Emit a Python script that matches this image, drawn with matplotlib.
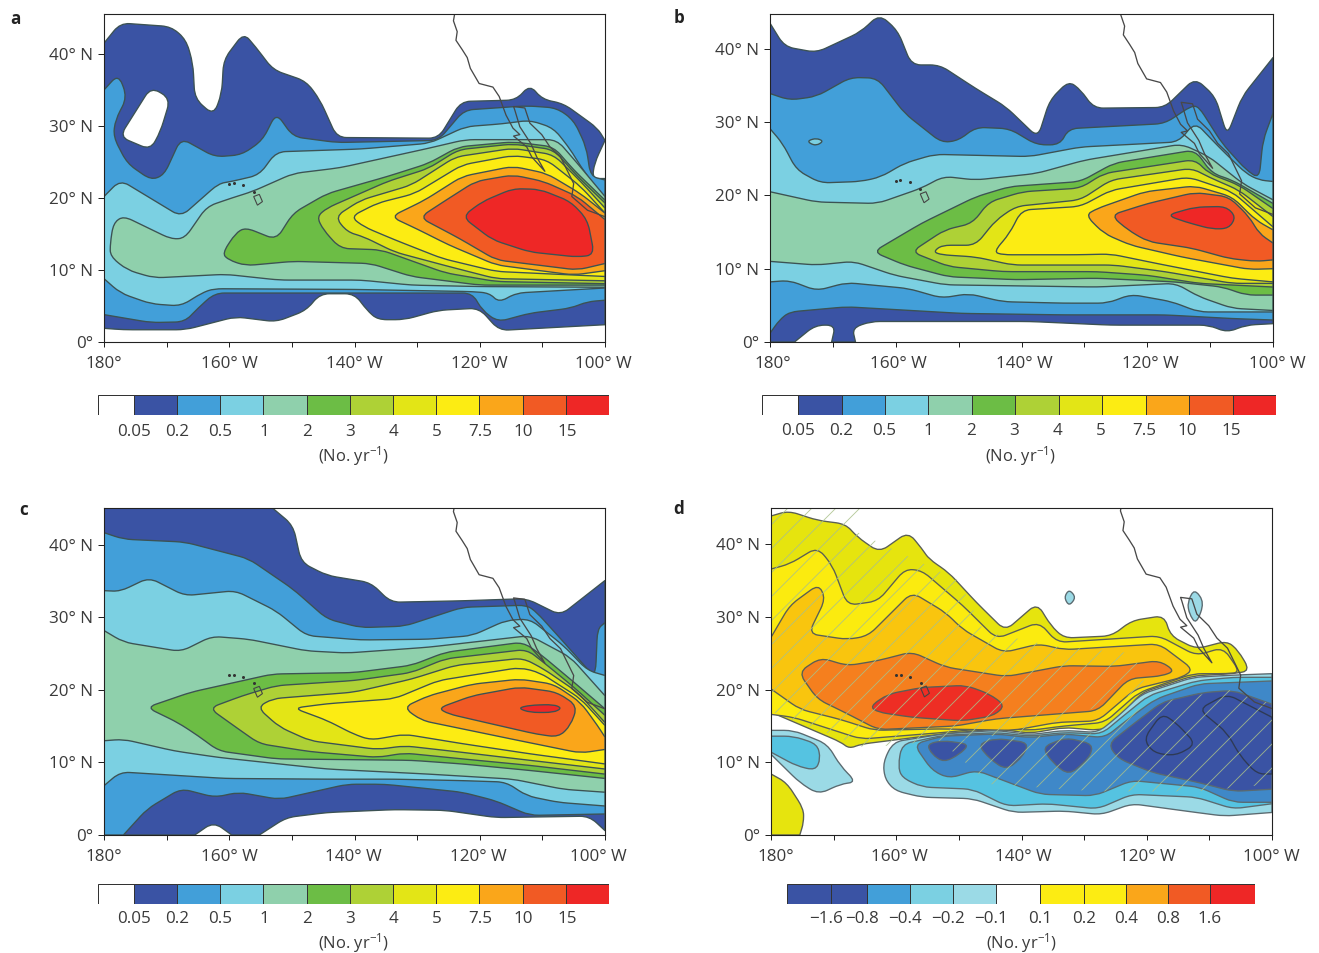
import matplotlib
matplotlib.use("Agg")
import matplotlib.pyplot as plt
from matplotlib.patches import Polygon, PathPatch
from matplotlib.path import Path
from matplotlib.transforms import ScaledTranslation
import numpy as np

plt.rcParams['font.family'] = ['Open Sans', 'DejaVu Sans']
plt.rcParams['mathtext.fontset'] = 'custom'
plt.rcParams['mathtext.rm'] = 'Open Sans'
plt.rcParams['mathtext.default'] = 'regular'
plt.rcParams['hatch.linewidth'] = 0.9

W, H = 1319, 953

# contour regions as (lon, lat), one list per level
a1 = [(-180,41.5),(-177.4,44.3),(-169.3,43.8),(-166.9,42),(-165.8,38.7),(-165.5,33.8),(-162.5,31.5),(-161.2,34.5),(-160.9,39.2),(-157.7,42.9),(-155.8,41),(-153,37.8),(-147.7,36.2),(-145.5,33.6),(-142.8,28.4),(-126.6,28.3),(-123,33.4),(-114.2,33.6),(-112,35.7),(-110,33.7),(-106.6,33.1),(-101.2,29.7),(-100,28),(-101.7,24.8),(-102,22.7),(-100,22.7),(-100,2.4),(-116.9,1.6),(-120.1,4.7),(-126.6,4.4),(-132,3.1),(-136.3,3.1),(-138,4.4),(-140,6.7),(-145.5,6.7),(-147.7,4.4),(-152.5,2.8),(-159,3.5),(-167,1.7),(-176.9,1.7),(-180,1.9)]
a_hole = [(-172.5,35.4),(-169.4,33.8),(-171,29.2),(-172.6,26.7),(-177.5,28.5)]
a2 = [(-180,35),(-177.7,37.2),(-176.3,34),(-178.2,30.8),(-178.5,28.5),(-176.3,24.8),(-172.5,22.5),(-170.4,23.2),(-167.7,28.3),(-162.3,25.7),(-158,26),(-154.7,28),(-152.5,31.8),(-149.8,28.5),(-142.8,27.7),(-126.6,28),(-122.5,32.2),(-112.5,32.8),(-107.7,32.5),(-105,30.8),(-103,27.1),(-102.3,23),(-100,22.5),(-100,5.8),(-102.8,5.6),(-105.5,4.7),(-112,4),(-117.1,2.8),(-119.6,4.4),(-121.2,6.8),(-162.3,6.8),(-165,4.7),(-167.1,2.8),(-172.5,2.7),(-180,3.8)]
a3 = [(-180,20.2),(-177.4,22.5),(-167.7,17.4),(-161.7,22),(-159.6,22.3),(-155.2,23.2),(-152.5,26.4),(-139,26.8),(-128,27.6),(-122.3,29.9),(-116.4,30.3),(-112,30.8),(-108.2,29.7),(-105.5,26.7),(-103.9,24.4),(-100,19.7),(-100,7.5),(-114.2,6.8),(-116.9,5.5),(-118.5,6.8),(-121.2,7),(-140,7.3),(-162.5,7.4),(-164.4,6.8),(-167.7,5),(-172.5,5.3),(-177.4,6.8),(-180,8.8)]
a4 = [(-179,13.7),(-178.5,16.5),(-176.9,17.5),(-169.3,14.3),(-167.1,14.4),(-163.6,18.8),(-159.6,20),(-156.3,20.9),(-149.8,23.4),(-142.3,24.2),(-128.2,26.9),(-122.3,28.1),(-107.7,28.1),(-104.4,24.8),(-100,20.2),(-100,7.6),(-120,7.7),(-130.9,7.9),(-139,8.6),(-152,8.6),(-160.6,9.4),(-172,8.9),(-176.3,10),(-179,11.9)]
a5 = [(-161.1,12.3),(-159,15.1),(-157.4,15.9),(-152.5,14.2),(-149.8,17.9),(-144.4,20.6),(-134.7,23),(-128.2,24.8),(-123.4,27.1),(-114.7,27.8),(-108.2,27.1),(-105,23.9),(-100,19.7),(-100,7.9),(-120,7.9),(-130.9,9.1),(-137.4,10.9),(-149.8,11.2),(-157.4,10.6),(-160.1,11.4)]
a6 = [(-146,17.4),(-144.4,18.6),(-134.7,22.3),(-128.2,24.1),(-123.4,26.7),(-114.7,27.5),(-108.2,26.7),(-104.4,23),(-100,19.3),(-100,8.1),(-117.4,8.4),(-125.5,9.6),(-135.8,12.8),(-142.3,13),(-145,15.6)]
a7 = [(-143.1,17.4),(-139,19.7),(-130.9,21.8),(-123.9,25.7),(-114.7,26.9),(-108.2,26),(-103.9,22.3),(-100,18.6),(-100,8.5),(-117.4,8.8),(-125,10.5),(-133.6,12.5),(-138.5,14.6),(-141.2,15.3)]
a8 = [(-140.6,17.4),(-136.3,19.3),(-130.4,20.6),(-122.8,24.6),(-114.7,25.9),(-109.3,25.3),(-103.9,21.6),(-100,17.9),(-100,9.1),(-117.4,9.8),(-126,11.6),(-133.6,14.2),(-138.5,16)]
a9 = [(-134.2,17.4),(-128.8,19.7),(-122.8,23),(-114.7,24.4),(-109.3,23.4),(-103.9,20.6),(-100,17.9),(-100,9.9),(-105,9.3),(-117.4,10.7),(-125,13.5),(-129.8,15.6)]
a10 = [(-129.6,17.3),(-126.1,19.3),(-120.7,22.3),(-114.7,23.2),(-109.8,22.3),(-104.4,20.2),(-100,17),(-100,10.9),(-104.4,10),(-117.4,11.4),(-123.3,14.4)]
a11 = [(-122.8,17.4),(-119.6,19.5),(-114.7,21.3),(-110.4,21.2),(-105.5,19.5),(-102.8,17),(-101.7,12.1),(-104.4,11.8),(-112,12.5),(-118,14.2)]

b1 = [(-180,43.5),(-177.7,40.3),(-172.6,39.5),(-165.6,42.3),(-162.6,44.7),(-159.7,42.5),(-157.5,37.8),(-153,37.8),(-147.3,34.6),(-142.5,32.1),(-137.4,27.9),(-135.5,33),(-132.5,35.6),(-130.6,34.4),(-128.5,31.9),(-117.2,32),(-112.4,36),(-109.2,33.5),(-107.3,28.2),(-104.9,33.5),(-100,38.8),(-100,2.5),(-104.3,2.3),(-107.3,1.3),(-110.2,2.3),(-125.8,2.3),(-138.7,2.8),(-164,2.8),(-166.9,1.9),(-166.4,0),(-170.2,0),(-169.6,2.3),(-172.8,2.3),(-176.1,0),(-180,0)]
b2 = [(-180,33.9),(-176.9,33),(-172.6,33.5),(-167.2,36.1),(-162.9,36),(-158.6,31.2),(-152.7,27.2),(-150,27.5),(-147.3,29.3),(-141.9,29.1),(-137.6,26.9),(-133.9,26.9),(-132.5,29.1),(-117.2,29.8),(-113,32.2),(-111.8,32.1),(-108.1,27.1),(-104.3,23.5),(-102.2,22.3),(-101.6,27.5),(-100,31.2),(-100,3),(-106.5,3.2),(-117.2,3.7),(-133.3,3.7),(-149.5,3.9),(-167.8,4.8),(-176.9,4.1),(-178.5,3),(-180,1.2)]
b_isle = [(-173.9,27.5),(-172.6,27.8),(-171.5,27.4),(-172.6,26.8),(-173.7,27.1)]
b3 = [(-180,29.1),(-178,27.1),(-175.8,23.5),(-172,21.7),(-165.6,21.9),(-162.4,22.5),(-158.6,24.4),(-153.8,25.6),(-138.7,25.3),(-130.6,26.6),(-115,27.3),(-112.4,30),(-108.6,26.6),(-104.3,23),(-102.2,22.1),(-100,21.9),(-100,4.1),(-111.8,4.1),(-116.1,5.5),(-122.6,6.5),(-126.3,5.3),(-133.3,5.3),(-143,5.5),(-148.4,6.6),(-152.7,6),(-158,7.3),(-167.8,8.1),(-172.6,7),(-176.9,8.4),(-180,8.2)]
b4 = [(-180,20.5),(-172.6,19.1),(-162.9,18.9),(-155.9,21),(-152.4,22.6),(-147.3,22.1),(-137.6,23),(-130,24.8),(-114.5,27),(-110.2,25.3),(-104.8,21.6),(-100,19.4),(-100,4.3),(-106.5,4.6),(-111.8,6.2),(-115.5,8),(-128,7.5),(-152.1,7.8),(-160.2,9.1),(-166.7,11),(-172.6,10.5),(-180,11)]
b5 = [(-163.6,12.3),(-155.9,16.2),(-147.3,19.8),(-141.9,21.2),(-130.6,21.9),(-125.3,24.4),(-112.4,26.2),(-109.7,23),(-106.5,22.1),(-100,18.9),(-100,6.4),(-104.3,6.4),(-108,7.5),(-115.6,8.2),(-128,8.7),(-140.9,8.5),(-151.6,8.9),(-158.6,10.5)]
b6 = [(-157.5,12.3),(-152.2,15.3),(-147.8,16.2),(-145.2,19.1),(-139.8,20.5),(-130.6,21),(-126.9,23),(-112.4,24.9),(-110.2,23),(-105.4,21.4),(-100,18.2),(-100,7.5),(-111.8,8),(-119.9,9.1),(-128,9.6),(-143,9.6),(-151.6,10.3)]
b7 = [(-154,12.3),(-152.7,13.2),(-147.3,13.2),(-144.1,16.6),(-140.9,18.5),(-130.6,19.4),(-125.8,22.1),(-112.9,23.7),(-110.2,22.5),(-105.4,20.7),(-100,17.1),(-100,8),(-106.5,8),(-117.2,9.6),(-125.3,10.5),(-141.4,10.5),(-147.3,11.6),(-152.7,11.9)]
b8 = [(-144.4,12.3),(-141.9,14.8),(-140,18),(-130.6,18.5),(-125.8,20.7),(-113.4,22.5),(-106.5,20.5),(-100,15.7),(-100,8.2),(-106.5,8.7),(-118.4,10.7),(-125.8,12),(-131.2,11.9),(-143,11.9)]
b9 = [(-129.8,17.3),(-128,18.2),(-120.4,20.5),(-112.4,21.3),(-106.5,19.8),(-102.7,16.6),(-100,15.3),(-100,10),(-103.8,9.9),(-114.5,11.6),(-122.6,13.2),(-126.9,14.8)]
b10 = [(-125.8,17.3),(-119.9,18.9),(-112.4,20.4),(-107,19.8),(-103.8,17.1),(-102.2,14.8),(-100,13.5),(-100,11.2),(-102.7,11),(-107,11.4),(-112.9,12.8),(-119.9,13.7),(-123.1,15.3)]
b11 = [(-116.9,17.3),(-112.4,18.4),(-107.5,18.5),(-105.9,17.1),(-107,15.5),(-109.7,15.4),(-114,16.4)]

c1 = [(-180,45.1),(-153.1,45.1),(-149.8,42.7),(-148.5,37.6),(-144.4,35.8),(-137.4,34.8),(-134.2,32.1),(-122.8,32.3),(-112.5,32.6),(-107.1,30.3),(-100,35.1),(-100,0.6),(-102.5,2.6),(-117.4,2.4),(-125.5,3.4),(-133.6,3.5),(-144.4,3.1),(-150.9,2.4),(-155.2,0),(-159.6,0),(-162.5,1.8),(-165.5,0),(-180,0)]
c2 = [(-180,41.7),(-176.9,40.8),(-167.1,40.4),(-156.9,38.1),(-149.8,33.9),(-144.4,29.8),(-139,28.6),(-132,28.8),(-122.8,31.4),(-112.5,31.7),(-110.9,30.7),(-106.6,26.6),(-102.3,22.4),(-101.5,22.4),(-101.2,28.4),(-100,29.3),(-100,2.9),(-112,2.7),(-117.4,4.7),(-122.8,5.9),(-135.2,7),(-141.2,7),(-152,4.9),(-158.5,5.9),(-162.3,5.2),(-167.7,6.4),(-173.1,3.6),(-176.9,0),(-180,0)]
c3 = [(-180,33.7),(-177.4,33.6),(-172.8,35.5),(-167.1,33),(-159,33.7),(-152.5,30.9),(-147.7,27.5),(-139,26.9),(-128.2,27),(-121.2,27.5),(-115.8,29.6),(-112,29.8),(-106.6,26.1),(-102.8,22.7),(-100,22),(-100,4),(-107.4,4.5),(-112.5,5.4),(-115.8,7.3),(-122.8,7.5),(-133.6,7.7),(-144.4,7.7),(-160.6,7.8),(-177.4,8.7),(-180,6.8)]
c4 = [(-180,28.2),(-176.9,26.6),(-167.7,25.3),(-162.8,27.4),(-156.9,27),(-147.7,25.4),(-141.2,25.1),(-128.2,25.9),(-112,27.5),(-105.5,24.5),(-100,19.2),(-100,5.9),(-106.6,6.3),(-114.7,7.7),(-128.2,8.4),(-144.4,9.1),(-161.7,10.7),(-168.8,11.6),(-176.9,13.2),(-180,13)]
c5 = [(-173.2,17.6),(-166.1,19.7),(-153.1,22.2),(-140.1,22.4),(-130.9,23.4),(-125.5,25.2),(-113.1,26.6),(-110.4,25),(-105,21.1),(-100,17.4),(-100,7.8),(-112,8.9),(-122.8,9.8),(-130.9,10.3),(-152.5,10.5),(-161.7,11.6),(-165,13.7),(-168.2,15.5)]
c6 = [(-163.2,17.5),(-157.9,19.2),(-152.5,20.6),(-140.1,21.3),(-130.9,22.4),(-125.5,24.3),(-112.5,25.6),(-109.8,23.8),(-105,20.4),(-100,16.5),(-100,8.4),(-112,9.6),(-122.8,10.5),(-132,11.3),(-136.3,10.7),(-147.1,11.5),(-155.2,12.6),(-158.5,14.6)]
c7 = [(-155.5,17.6),(-153.1,18.8),(-140.1,19.7),(-130.9,21.5),(-123.9,23.4),(-113.1,24.4),(-109.8,22.9),(-104.4,19.7),(-100,15.5),(-100,9.1),(-112,10.3),(-122.8,11.4),(-132,12.3),(-136.3,11.8),(-147.1,13),(-152,14.9)]
c8 = [(-149.7,17.5),(-144.4,18.1),(-133.6,18.8),(-126.6,21.3),(-113.6,23.1),(-110.4,22.4),(-103.9,18.8),(-100,15.1),(-100,9.8),(-112,11.2),(-122.8,12.6),(-132,13.9),(-137.4,13.1),(-140.1,13.9),(-144.4,15.8)]
c9 = [(-132.2,17.6),(-128.2,19.2),(-121.2,20.8),(-113.6,21.5),(-108.2,20.8),(-103.9,18.3),(-101.2,15.1),(-100,13.5),(-100,11.8),(-103.9,11.3),(-113.6,13),(-129.3,15.8)]
c10 = [(-126.6,17.5),(-121.2,19.2),(-113.6,20.4),(-107.7,19.7),(-104.4,17.8),(-105.5,15.1),(-107.4,13.5),(-110.9,13.9),(-119,15.5),(-125,16.7)]
c11 = [(-113.9,17.5),(-112,17.9),(-108.2,18),(-106.9,17.5),(-108.2,16.9),(-112,16.9)]

d_p1 = [(-180,43.9),(-177.2,44.6),(-172.6,43.3),(-168.1,42.8),(-166.2,41),(-162.7,38.9),(-158.1,41.7),(-155.9,39.4),(-154.8,38),(-151.6,36.1),(-147.2,32),(-142.6,28.1),(-137.5,31.9),(-135.3,28.8),(-133.2,27.1),(-125.6,27.4),(-122.4,29.5),(-117.2,30.2),(-116.2,27.4),(-112.1,25.6),(-107.2,26.7),(-105.4,25.4),(-103.5,22.6),(-106.2,22.2),(-112.6,21.9),(-120.8,19.6),(-125.6,15),(-127.8,14.4),(-133.2,14.8),(-138.6,14),(-144,14.6),(-152.6,13.9),(-165.6,12.5),(-167.5,11.9),(-168.9,12.8),(-180,16.9)]
d_p1b = [(-180,8.4),(-177.5,7.2),(-174.8,3.6),(-174.8,1.7),(-175.4,0),(-180,0)]
d_p2 = [(-180,36.6),(-177,37.3),(-172.6,39.6),(-170.2,37.1),(-167.8,31.6),(-162.9,32.2),(-158.6,36.6),(-155.9,36.4),(-149.4,31.6),(-144,27),(-137.2,29.3),(-134.3,26.5),(-118,27.4),(-112.1,24.7),(-107.8,25.8),(-105.1,22.4),(-107.2,22.2),(-112.6,22.2),(-121.3,19.6),(-126.7,15.5),(-133.2,15),(-138.6,14.4),(-144,14.8),(-152.6,14.1),(-165.6,13.2),(-176.4,16.2),(-180,16.6)]
d_p3 = [(-180,27.2),(-177,31.6),(-172.4,34.5),(-171.3,32.5),(-174,27.7),(-167.8,26.9),(-164.5,27.4),(-157.5,33.4),(-152.1,30.6),(-149.4,28.3),(-142.9,25.1),(-137.2,26.3),(-133.2,25.5),(-118,26.3),(-112.6,22.8),(-114.3,21.7),(-121.8,20.1),(-127.8,15.7),(-134.3,15.5),(-141.3,14.4),(-153.2,14.6),(-163.5,14.4),(-168.9,15.9),(-175.4,17.3),(-180,20.1)]
d_p4 = [(-175.6,22.4),(-172.1,24.4),(-167.8,23.3),(-162.9,24),(-157.5,25.2),(-152.1,23.1),(-142.4,21.8),(-133.2,23.3),(-125.1,23.2),(-118,24),(-115.5,22.6),(-117.5,21.9),(-122.9,21.5),(-127.8,17.1),(-144,16),(-150.5,15),(-162.9,14.5),(-168.3,16.9),(-172.6,18.7)]
d_p5 = [(-164.2,17.7),(-161.3,19.4),(-155.9,20.3),(-148.9,20.6),(-145.1,19.4),(-142.6,17.8),(-144.5,16.4),(-149.4,15.7),(-157.5,16.2),(-162.9,16.9)]
d_n1 = [(-162.1,10),(-160.5,12.8),(-152.6,13.9),(-144,14.4),(-138.6,13.8),(-133.2,14.4),(-127.8,14.1),(-124.5,16.4),(-120.8,19.4),(-112.6,21.7),(-106.2,22),(-100,22.2),(-100,3.1),(-107.6,2.6),(-112.1,3.1),(-122.4,4.3),(-127.2,2.8),(-133.2,3.3),(-141.3,3.1),(-147.8,5),(-155.9,5.2),(-160.2,6.1),(-161.8,7.7)]
d_n1b = [(-180,14.4),(-176.4,14.4),(-171,12.5),(-168.9,9.5),(-166.4,7.3),(-168.9,7),(-172.4,5.6),(-175.4,7.2),(-180,11.1)]
d_n1c = [(-133.2,32.7),(-132.4,33.8),(-131.3,32.7),(-132.4,31.5)]
d_n1d = [(-113.5,32),(-112.4,33.9),(-110.8,32),(-112.1,29),(-113.2,30.4)]
d_n2 = [(-159.7,9.5),(-159.1,12.5),(-152.6,13.7),(-144,14.1),(-138.6,13.6),(-133.2,14.1),(-127.2,13.9),(-124,16.2),(-119.7,19.2),(-112.1,21.2),(-106.2,21.7),(-100,21.7),(-100,4.3),(-106.2,3.6),(-112.1,5.2),(-122.4,5.6),(-127.8,3.6),(-135.9,4.3),(-142.4,4),(-147.8,6.3),(-155.9,6.6),(-159.1,7.9)]
d_n2b = [(-180,13.6),(-176.4,13.6),(-172.6,12.5),(-172.1,10.5),(-172.9,8.9),(-175.9,9.5),(-180,11.4)]
d_n3 = [(-157.2,12.5),(-152.6,13.6),(-144,13.9),(-138.6,13.4),(-133.2,13.9),(-126.7,13.4),(-122.9,16),(-118.6,18.7),(-111.6,20.8),(-100,21.2),(-100,4.5),(-106.2,4.5),(-111.6,6.6),(-122.4,7.5),(-128.3,5.4),(-137,5.6),(-147.2,8.9),(-151.6,7.8),(-154.3,8.9)]
d_n4a = [(-155.1,12.5),(-152.6,13),(-148.3,12.5),(-149.9,11.1),(-152.4,10),(-154.3,11.1)]
d_n4b = [(-147,12.5),(-144,13.3),(-138.9,12.7),(-139.7,10.9),(-142.4,8.9),(-145.1,10.5)]
d_n4c = [(-136.7,12.1),(-132.9,13.4),(-128.6,12.5),(-129.1,10.7),(-132.4,8.2),(-135.1,10)]
d_n4d = [(-126.2,12.5),(-121.8,15.5),(-117.5,18.3),(-111,19.6),(-106.2,19.9),(-100,18),(-100,6.3),(-106.2,6),(-111.6,7.2),(-119.1,8.6),(-124.5,10.5)]
d_n5a = [(-120.5,13.2),(-117.6,16.7),(-115.4,15.5),(-112.1,12.5),(-115.4,10.9),(-118.9,11.3)]
d_n5b = [(-111.7,17.3),(-107.2,19.4),(-100,16.2),(-100,8.4),(-102.4,8.4),(-105.1,10.9),(-107.2,14.1)]
d_sig1 = [(-180,45),(-164.5,45),(-167,42),(-150,35),(-146,28),(-135,26),(-122,25),(-120,20),(-140,14),(-165,12),(-180,17)]
d_sig2 = [(-153,13),(-128,14),(-120,18),(-107,20),(-100,18),(-100,7),(-112,6),(-128,6),(-145,7)]

coast = [(-124,45.6),(-124.2,44.6),(-123.6,43.1),(-123.8,41.9),(-122.8,40.6),(-122,39.5),(-121.5,38),(-120.1,35.9),(-117.9,35.4),(-116.9,34.1),(-115.8,31.5),(-114.7,29.7),(-113.6,28.8),(-114.6,28.6),(-112.5,27.1),(-111.7,25.7),(-109.6,23.7),(-110.9,25.7),(-111.8,27.5),(-113.6,29.9),(-114.4,32.2),(-114.6,32.7),(-112.8,32.5),(-112,30.4),(-110.1,28.8),(-108.8,27.1),(-107.1,25.7),(-105,22),(-105.3,20.2),(-102.8,18.3),(-100,17.4)]
big_island = [(-156.1,20.2),(-155.2,20.5),(-154.7,19.5),(-155.5,19)]
isle_lon = [-160,-159.3,-157.8,-156.1]
isle_lat = [22,22.05,21.8,20.9]

lon_ticks = [-180,-170,-160,-150,-140,-130,-120,-110,-100]
lon_labels = ['180°','','160° W','','140° W','','120° W','','100° W']
lat_ticks = [0,10,20,30,40]
lat_labels = ['0°','10° N','20° N','30° N','40° N']

cb_labels = ['0.05','0.2','0.5','1','2','3','4','5','7.5','10','15']
cb_labels_d = ['\u22121.6','\u22120.8','\u22120.4','\u22120.2','\u22120.1','0.1','0.2','0.4','0.8','1.6']

white = '#ffffff'
cols = ['#3a53a4','#429fd9','#7bd0e2','#8fd0ac','#6cbd45','#aed136','#e3e516','#fcec13','#faa61a','#f15a24','#ee2726']
cols_d = ['#3a53a4','#3a53a4','#429fd9','#7bd0e2','#9bdae6',white,'#fcec13','#fcec13','#faa61a','#f15a24','#ee2726']
line_col = '#3c5253'
txt_col = '#3a3a3a'


def px_axes(x0, y0, x1, y1):
    return fig.add_axes([x0/W, 1-y1/H, (x1-x0)/W, (y1-y0)/H])


def round_path(poly, r=1.5):
    # round the corners of a region, but keep the ones sitting on the map frame sharp
    pts = np.array(poly, dtype=float)
    verts, codes = [], []
    for i, p in enumerate(pts):
        on_frame = p[0] in (-180, -100) or p[1] == 0 or p[1] > 45
        prev, nxt = pts[i-1], pts[(i+1) % len(pts)]
        d1, d2 = prev-p, nxt-p
        n1, n2 = np.hypot(*d1), np.hypot(*d2)
        if on_frame:
            verts.append(p)
            codes.append(Path.MOVETO if i == 0 else Path.LINETO)
        else:
            verts += [p+d1/n1*min(r, .45*n1), p, p+d2/n2*min(r, .45*n2)]
            codes += [Path.MOVETO if i == 0 else Path.LINETO, Path.CURVE3, Path.CURVE3]
    verts.append(verts[0])
    codes.append(Path.CLOSEPOLY)
    return Path(verts, codes)


def fill(ax, poly, col, lw=1.35, ec=line_col):
    ax.add_patch(PathPatch(round_path(poly), fc=col, ec=ec, lw=lw, joinstyle='round'))


def map_axes(box, top, shifts):
    ax = px_axes(*box)
    ax.set_xlim(-180, -100)
    ax.set_ylim(0, top)
    ax.set_xticks(lon_ticks, lon_labels)
    ax.set_yticks(lat_ticks, lat_labels)
    ax.tick_params(axis='x', length=5, width=1, color='#222222', labelsize=17, labelcolor=txt_col, pad=9)
    ax.tick_params(axis='y', length=6, width=1, color='#222222', labelsize=17, labelcolor=txt_col, pad=5)
    for lab, dx in zip(ax.get_xticklabels(), shifts):
        lab.set_transform(lab.get_transform() + ScaledTranslation(dx/72, 0, fig.dpi_scale_trans))
    for s in ax.spines.values():
        s.set_linewidth(1.1)
        s.set_color('#222222')
        s.set_zorder(20)
    return ax


def land(ax):
    ax.plot(*zip(*coast), color='#484848', lw=1.3, zorder=10)
    ax.add_patch(Polygon(big_island, closed=True, fc='none', ec='#444444', lw=1.1, zorder=10))
    ax.plot(isle_lon, isle_lat, '.', color='#333333', ms=4, zorder=10)


def colorbar(box, widths, colors, labels, unit_x, lab_y, unit_y):
    ax = px_axes(*box)
    left = 0
    edges = []
    for w, c in zip(widths, colors):
        ax.bar(left, 1, width=w, align='edge', color=c, edgecolor='#333333', linewidth=1)
        left += w
        edges.append(left)
    ax.set_xlim(0, left)
    ax.set_ylim(0, 1)
    ax.axis('off')
    for e, t in zip(edges, labels):
        dx = -5 if t.startswith('\u2212') else 0
        fig.text((box[0]+e+dx)/W, 1-lab_y/H, t, ha='center', va='center', fontsize=17, color=txt_col)
    fig.text(unit_x/W, 1-unit_y/H, r'(No. yr$^{-1}$)', ha='center', va='center', fontsize=16.5, color=txt_col)


fig = plt.figure(figsize=(W/72, H/72), dpi=72)

ax = map_axes((104, 14, 605, 342), 45.55, [0,0,0,0,0,0,0,0,-2])
for poly, c in zip([a1,a2,a3,a4,a5,a6,a7,a8,a9,a10,a11], cols):
    fill(ax, poly, c)
fill(ax, a_hole, white)
land(ax)

ax = map_axes((770, 14, 1273, 342), 44.75, [3,0,3,0,3,0,3,0,4])
for poly, c in zip([b1,b2,b3,b4,b5,b6,b7,b8,b9,b10,b11], cols):
    fill(ax, poly, c)
fill(ax, b_isle, cols[2])
land(ax)

ax = map_axes((104, 508, 605, 835), 45.1, [0,0,0,0,-1,0,-1,0,-7])
for poly, c in zip([c1,c2,c3,c4,c5,c6,c7,c8,c9,c10,c11], cols):
    fill(ax, poly, c)
land(ax)

ax = map_axes((771, 508, 1272, 835), 45.0, [5,0,3,0,2,0,1,0,-1])
dy = ['#e6e40e','#fbeb0f','#f9c50e','#f57f1e','#ee2e24']
for poly, c in zip([d_p1,d_p1b,d_p2,d_p3,d_p4,d_p5], [dy[0],dy[0],dy[1],dy[2],dy[3],dy[4]]):
    fill(ax, poly, c, ec='#5a5f55')
for poly, c in zip([d_n1,d_n1b,d_n1c,d_n1d,d_n2,d_n2b,d_n3,d_n4a,d_n4b,d_n4c,d_n4d],
                   ['#9bdae6','#9bdae6','#9bdae6','#9bdae6','#55c3e1','#55c3e1','#3f88c8','#3a53a4','#3a53a4','#3a53a4','#3a53a4']):
    fill(ax, poly, c, ec='#5a6a70')
fill(ax, d_n5a, '#3a53a4', ec='#2e3a55')
fill(ax, d_n5b, '#3a53a4', ec='#2e3a55')
for poly in [d_sig1, d_sig2]:
    ax.add_patch(Polygon(poly, closed=True, fc='none', ec='#a9c08a', lw=0, hatch='/', alpha=0.85, zorder=5))
land(ax)

w_a = [36] + [43.3]*11
colorbar((98, 395, 609, 415), w_a, [white]+cols, cb_labels, 353, 432, 456)
colorbar((762, 395, 1276, 415), w_a, [white]+cols, cb_labels, 1020, 431, 456)
colorbar((98, 884, 609, 904), w_a, [white]+cols, cb_labels, 353, 919, 943)
w_d = [44, 36, 43, 43, 43, 44, 44, 42, 42, 42, 45]
colorbar((787, 884, 1255, 904), w_d, cols_d, cb_labels_d, 1021, 919, 943)

for t, x, y in [('a',15,19),('b',679,18),('c',24,510),('d',679,509)]:
    fig.text(x/W, 1-y/H, t, ha='center', va='center', fontsize=17, fontweight='bold', color='#222222')

fig.savefig('out.png', dpi=72)
